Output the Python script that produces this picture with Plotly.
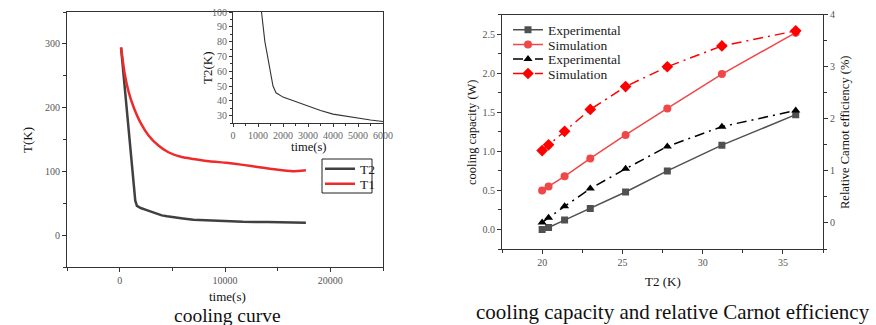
import plotly.graph_objects as go

W, H = 876, 325
FONT = "Liberation Serif, Times New Roman, DejaVu Serif, serif"

# ---- left chart: cooling curve ----
t2_time = [130, 850, 1480, 1640, 2000, 2500, 3000, 3500, 4000, 4500, 5000, 5500, 6000,
           7000, 9000, 11700, 14000, 16000, 17680]
t2_temp = [294, 159, 54, 46, 42.5, 39.5, 36.3, 33.5, 31, 29.5, 28, 27, 26,
           24, 22.5, 21, 20.5, 20.2, 19.5]

t1_time = [130, 475, 850, 1320, 1950, 2740, 3680, 4625, 5885, 7000, 8500, 10130, 11700,
           13270, 14850, 16415, 17680]
t1_temp = [294.5, 253.5, 224.6, 201, 177.3, 156.4, 140.6, 130, 122.5, 119.5, 116, 113.4,
           110.2, 106.5, 102.8, 100.2, 101.8]

inset_time = [1140, 1275, 1384, 1490, 1600, 1720, 2000, 2500, 3000, 3500, 4000, 4500,
              5000, 5500, 6000]
inset_temp = [100, 80, 70, 60, 50, 45.4, 42.5, 39.5, 36.3, 33.5, 31, 29.5, 28, 27, 26]

# ---- right chart ----
t2_k = [20.0, 20.4, 21.4, 23.0, 25.2, 27.8, 31.2, 35.8]
cap_exp = [0.0, 0.026, 0.12, 0.27, 0.48, 0.75, 1.08, 1.47]
cap_sim = [0.50, 0.55, 0.68, 0.91, 1.21, 1.55, 1.99, 2.52]
eff_exp = [0.01, 0.10, 0.32, 0.66, 1.04, 1.47, 1.85, 2.16]
eff_sim = [1.39, 1.50, 1.76, 2.18, 2.62, 3.00, 3.40, 3.69]


def px(x):
    return x / W


def py(y):
    return 1 - y / H


fig = go.Figure()

fig.add_trace(go.Scatter(x=t2_time, y=t2_temp, mode="lines", name="T2",
                         line=dict(color="#404040", width=2.5), xaxis="x", yaxis="y",
                         legend="legend"))
fig.add_trace(go.Scatter(x=t1_time, y=t1_temp, mode="lines", name="T1",
                         line=dict(color="#ee2b2b", width=2.5, shape="spline", smoothing=0.6),
                         xaxis="x", yaxis="y", legend="legend2"))
fig.add_trace(go.Scatter(x=inset_time, y=inset_temp, mode="lines", showlegend=False,
                         line=dict(color="#333333", width=1.1), xaxis="x2", yaxis="y2"))

dashdot = "10px,5px,2px,5px"
fig.add_trace(go.Scatter(x=t2_k, y=cap_exp, mode="lines+markers", name="Experimental",
                         line=dict(color="#505050", width=1.5),
                         marker=dict(symbol="square", size=7, color="#505050"),
                         xaxis="x3", yaxis="y3", legend="legend3"))
fig.add_trace(go.Scatter(x=t2_k, y=cap_sim, mode="lines+markers", name="Simulation",
                         line=dict(color="#f04848", width=1.5),
                         marker=dict(symbol="circle", size=8, color="#f04848"),
                         xaxis="x3", yaxis="y3", legend="legend4"))
fig.add_trace(go.Scatter(x=t2_k, y=eff_exp, mode="lines+markers", name="Experimental",
                         line=dict(color="#000000", width=1.5, dash=dashdot),
                         marker=dict(symbol="triangle-up", size=8, color="#000000"),
                         xaxis="x3", yaxis="y4", legend="legend5"))
fig.add_trace(go.Scatter(x=t2_k, y=eff_sim, mode="lines+markers", name="Simulation",
                         line=dict(color="#ff0000", width=1.5, dash=dashdot),
                         marker=dict(symbol="diamond", size=9, color="#ff0000"),
                         xaxis="x3", yaxis="y4", legend="legend6"))

ax_common = dict(showline=True, linecolor="#333333", linewidth=1.2, showgrid=False,
                 zeroline=False, ticks="outside", ticklen=4, tickcolor="#333333",
                 tickfont=dict(family=FONT, size=10, color="#555555"))
minor_out = dict(ticks="outside", ticklen=2.5, tickcolor="#333333")
inset_font = dict(family=FONT, size=10, color="#666666")


def leg(x, y, size=13.5):
    return dict(x=px(x), y=py(y), xanchor="left", yanchor="middle",
                bgcolor="rgba(0,0,0,0)", borderwidth=0, itemwidth=30,
                font=dict(family=FONT, size=size, color="#222222"))


# overlay axes used only to draw inward mirror ticks on top / right sides
mirror_in = dict(ticks="inside", ticklen=4, tickcolor="#333333", showticklabels=False,
                 showline=False, showgrid=False, zeroline=False)

fig.update_layout(
    width=W, height=H, margin=dict(l=0, r=0, t=0, b=0, autoexpand=False),
    paper_bgcolor="white", plot_bgcolor="white",
    font=dict(family=FONT, color="#222222"),
    xaxis=dict(domain=[px(67), px(383)], range=[-5000, 25000], anchor="y",
               tickvals=[0, 10000, 20000], tickformat="d",
               minor=dict(dtick=5000, **minor_out), mirror=True, **ax_common),
    yaxis=dict(domain=[py(267), py(12)], range=[-50, 350], anchor="x",
               tickvals=[0, 100, 200, 300], minor=dict(dtick=50, **minor_out),
               mirror=True, **ax_common),
    xaxis4=dict(overlaying="x", side="top", anchor="y", range=[-5000, 25000],
                tickvals=[0, 10000, 20000], **mirror_in),
    yaxis5=dict(overlaying="y", side="right", anchor="x", range=[-50, 350],
                tickvals=[0, 100, 200, 300], **mirror_in),
    xaxis2=dict(domain=[px(233), px(383)], range=[0, 6000], anchor="y2",
                dtick=1000, minor=dict(dtick=500, ticks="outside", ticklen=2, tickcolor="#333"),
                **{**ax_common, "tickfont": inset_font, "ticklen": 3}),
    yaxis2=dict(domain=[py(123), py(12)], range=[25, 100], anchor="x2",
                dtick=10, minor=dict(dtick=5, ticks="outside", ticklen=2, tickcolor="#333"),
                mirror=True, **{**ax_common, "tickfont": inset_font, "ticklen": 3}),
    xaxis3=dict(domain=[px(502), px(823)], range=[17.5, 37.5], anchor="y3",
                tickvals=[20, 25, 30, 35], minor=dict(dtick=2.5, **minor_out),
                mirror=True, **ax_common),
    xaxis5=dict(overlaying="x3", side="top", anchor="y3", range=[17.5, 37.5],
                tickvals=[20, 25, 30, 35], **mirror_in),
    yaxis3=dict(domain=[py(249), py(14.7)], range=[-0.25, 2.75], anchor="x3",
                tickvals=[0, 0.5, 1.0, 1.5, 2.0, 2.5], tickformat=".1f",
                minor=dict(dtick=0.25, **minor_out), **ax_common),
    yaxis4=dict(range=[-0.5, 4], overlaying="y3", anchor="x3", side="right",
                tickvals=[0, 1, 2, 3, 4], minor=dict(dtick=0.5, **minor_out),
                **ax_common),
    legend=leg(320, 169),
    legend2=leg(320, 184),
    legend3=leg(508, 30),
    legend4=leg(508, 44.7),
    legend5=leg(508, 59.3),
    legend6=leg(508, 73.7),
    shapes=[dict(type="rect", xref="paper", yref="paper", x0=px(322), x1=px(372),
                 y0=py(193), y1=py(159), line=dict(color="#222222", width=1),
                 fillcolor="rgba(0,0,0,0)", layer="above")],
)

ann = [
    dict(text="T(K)", x=px(27), y=py(140), textangle=-90, font=dict(size=13)),
    dict(text="time(s)", x=px(227), y=py(296), font=dict(size=13)),
    dict(text="cooling curve", x=px(227), y=py(315), font=dict(size=19.5)),
    dict(text="T2(K)", x=px(207), y=py(68), textangle=-90, font=dict(size=13)),
    dict(text="time(s)", x=px(308), y=py(147), font=dict(size=12.5)),
    dict(text="cooling capacity (W)", x=px(472), y=py(132), textangle=-90,
         font=dict(size=12.5)),
    dict(text="Relative Carnot efficiency (%)", x=px(845), y=py(132), textangle=-90,
         font=dict(size=12.5)),
    dict(text="T2 (K)", x=px(663), y=py(281), font=dict(size=13)),
    dict(text="cooling capacity and relative Carnot efficiency", x=px(673), y=py(312),
         font=dict(size=21)),
]
for a in ann:
    a.update(xref="paper", yref="paper", showarrow=False, xanchor="center", yanchor="middle")
    a["font"] = dict(family=FONT, color="#111111", **a["font"])
fig.update_layout(annotations=ann)

fig.write_html("out.html", config={"displayModeBar": False},
               post_script="document.body.style.margin='0';document.body.style.overflow='hidden';")
